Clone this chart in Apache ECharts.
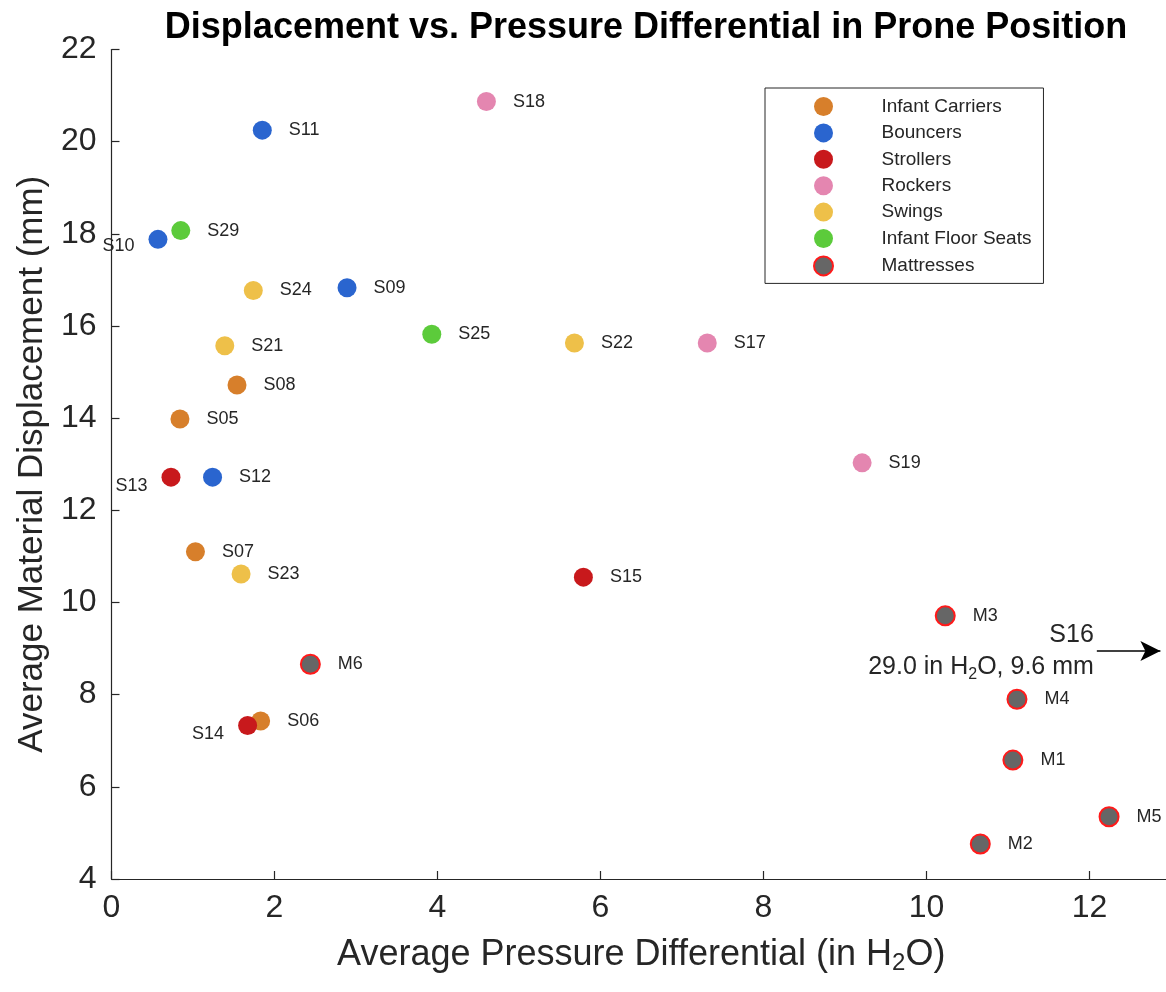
<!DOCTYPE html>
<html>
<head>
<meta charset="utf-8">
<script src="https://cdn.jsdelivr.net/npm/echarts@6/dist/echarts.min.js"></script>
<style>
  html, body { margin: 0; padding: 0; background: #fff; }
  #chart { width: 1166px; height: 992px; }
</style>
</head>
<body>
<div id="chart"></div>
<script>
// Product groups and their colours
const categories = ['Infant Carriers', 'Bouncers', 'Strollers', 'Rockers', 'Swings', 'Infant Floor Seats', 'Mattresses'];
const categoryColors = ['#D77F2B', '#2A65CF', '#C8191C', '#E486B0', '#EEC049', '#5CCB3B', '#666666'];

// Measurements per group: sample id, pressure differential (in H2O), displacement (mm)
const carrierNames = ['S05', 'S06', 'S07', 'S08'];
const carrierPressure = [0.84, 1.83, 1.03, 1.54];
const carrierDisplacement = [13.98, 7.43, 11.10, 14.72];

const bouncerNames = ['S09', 'S10', 'S11', 'S12'];
const bouncerPressure = [2.89, 0.57, 1.85, 1.24];
const bouncerDisplacement = [16.83, 17.88, 20.25, 12.72];

const strollerNames = ['S13', 'S14', 'S15'];
const strollerPressure = [0.73, 1.67, 5.79];
const strollerDisplacement = [12.72, 7.33, 10.55];

const rockerNames = ['S17', 'S18', 'S19'];
const rockerPressure = [7.31, 4.60, 9.21];
const rockerDisplacement = [15.63, 20.87, 13.03];

const swingNames = ['S21', 'S22', 'S23', 'S24'];
const swingPressure = [1.39, 5.68, 1.59, 1.74];
const swingDisplacement = [15.57, 15.63, 10.62, 16.77];

const floorSeatNames = ['S25', 'S29'];
const floorSeatPressure = [3.93, 0.85];
const floorSeatDisplacement = [15.82, 18.07];

const mattressNames = ['M1', 'M2', 'M3', 'M4', 'M5', 'M6'];
const mattressPressure = [11.06, 10.66, 10.23, 11.11, 12.24, 2.44];
const mattressDisplacement = [6.58, 4.76, 9.71, 7.90, 5.35, 8.66];

// Off-scale sample, shown as an arrow pointing out of the plot
const outlierName = 'S16';
const outlierPressure = 29.0;
const outlierDisplacement = 9.6;
const outlierArrowFrom = [12.09, 8.95];
const outlierArrowTo = [12.87, 8.95];

// Axis ranges and ticks
const xMin = 0, xMax = 13, xStep = 2;
const yMin = 4, yMax = 22, yStep = 2;

const groups = [
  [carrierNames, carrierPressure, carrierDisplacement],
  [bouncerNames, bouncerPressure, bouncerDisplacement],
  [strollerNames, strollerPressure, strollerDisplacement],
  [rockerNames, rockerPressure, rockerDisplacement],
  [swingNames, swingPressure, swingDisplacement],
  [floorSeatNames, floorSeatPressure, floorSeatDisplacement],
  [mattressNames, mattressPressure, mattressDisplacement]
];

const FONT = '"Liberation Sans", Arial, Helvetica, sans-serif';
const INK = '#262626';

// labels that sit to the lower-left of their marker
const leftLabelOffsets = { S10: [0, 7], S13: [0, 9], S14: [0, 8] };

const series = groups.map(([names, xs, ys], gi) => {
  const isMattress = categories[gi] === 'Mattresses';
  return {
    name: categories[gi],
    type: 'scatter',
    symbol: 'circle',
    symbolSize: 19,
    itemStyle: {
      color: categoryColors[gi],
      opacity: 1,
      borderColor: isMattress ? '#FF1A1A' : undefined,
      borderWidth: isMattress ? 2 : 0
    },
    label: {
      show: true,
      position: 'right',
      distance: 17,
      formatter: p => p.data.name,
      fontFamily: FONT,
      fontSize: 18,
      color: INK
    },
    data: names.map((n, i) => {
      const d = { name: n, value: [xs[i], ys[i]] };
      if (leftLabelOffsets[n]) {
        d.label = { position: 'left', distance: 14, offset: leftLabelOffsets[n] };
      }
      return d;
    })
  };
});

// arrow + caption for the off-scale sample
series.push({
  name: outlierName,
  type: 'scatter',
  data: [],
  silent: true,
  markLine: {
    silent: true,
    symbol: ['none', 'arrow'],
    symbolSize: [15, 20],
    lineStyle: { color: '#000', width: 1.5, type: 'solid' },
    label: {
      show: true,
      position: 'start',
      distance: 3,
      formatter: '{t|' + outlierName + '}\n{v|' + outlierPressure.toFixed(1) + ' in H}{s|2}{v|O, ' + outlierDisplacement.toFixed(1) + ' mm}',
      rich: {
        t: { fontFamily: FONT, fontSize: 25, color: INK, align: 'right', lineHeight: 32 },
        v: { fontFamily: FONT, fontSize: 25, color: INK, lineHeight: 32 },
        s: { fontFamily: FONT, fontSize: 16, color: INK, lineHeight: 32, verticalAlign: 'bottom', padding: [14, 0, 0, 0] }
      }
    },
    data: [[{ coord: outlierArrowFrom }, { coord: outlierArrowTo }]]
  }
});

const chart = echarts.init(document.getElementById('chart'), null, { renderer: 'canvas' });
chart.setOption({
  animation: false,
  backgroundColor: '#fff',
  title: {
    text: 'Displacement vs. Pressure Differential in Prone Position',
    left: 641,
    textAlign: 'center',
    top: 5,
    textStyle: { fontFamily: FONT, fontSize: 36, fontWeight: 'bold', color: '#000' }
  },
  grid: { left: 111.5, right: -5, top: 49.5, bottom: 113, containLabel: false, outerBoundsMode: 'none' },
  legend: {
    data: categories,
    orient: 'vertical',
    left: 765,
    top: 88,
    padding: [9, 12, 7, 48],
    itemWidth: 106,
    itemHeight: 19,
    itemGap: 7.4,
    borderColor: INK,
    borderWidth: 1,
    backgroundColor: '#fff',
    icon: 'circle',
    textStyle: { fontFamily: FONT, fontSize: 19, color: INK }
  },
  xAxis: {
    type: 'value',
    min: xMin,
    max: xMax,
    interval: xStep,
    splitLine: { show: false },
    axisLine: { show: true, onZero: false, lineStyle: { color: INK, width: 1.2 } },
    axisTick: { show: true, inside: true, length: 8, lineStyle: { color: INK, width: 1.2 } },
    axisLabel: {
      fontFamily: FONT, fontSize: 32, color: INK, margin: 13,
      formatter: v => (v > 12 ? '' : String(v))
    },
    name: '{a|Average Pressure Differential (in H}{s|2}{a|O)}',
    nameLocation: 'middle',
    nameGap: 55,
    nameTextStyle: {
      rich: {
        a: { fontFamily: FONT, fontSize: 36, color: INK, lineHeight: 40 },
        s: { fontFamily: FONT, fontSize: 24, color: INK, lineHeight: 40, verticalAlign: 'bottom', padding: [22, 0, 0, 0] }
      }
    }
  },
  yAxis: {
    type: 'value',
    min: yMin,
    max: yMax,
    interval: yStep,
    splitLine: { show: false },
    axisLine: { show: true, onZero: false, lineStyle: { color: INK, width: 1.2 } },
    axisTick: { show: true, inside: true, length: 8, lineStyle: { color: INK, width: 1.2 } },
    axisLabel: { fontFamily: FONT, fontSize: 32, color: INK, margin: 15 },
    name: 'Average Material Displacement (mm)',
    nameLocation: 'middle',
    nameGap: 62,
    nameTextStyle: { fontFamily: FONT, fontSize: 35, color: INK }
  },
  series: series
});
</script>
</body>
</html>
